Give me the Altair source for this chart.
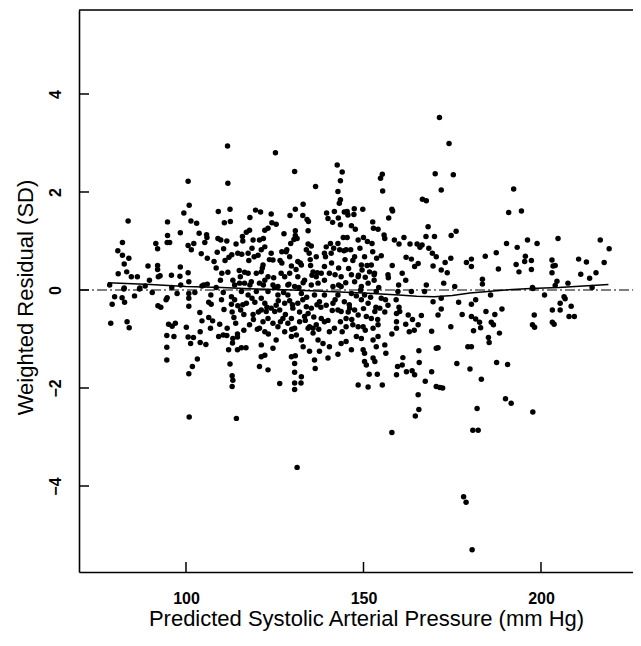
import altair as alt
import pandas as pd

# ---- data ----
x_ticks = [100, 150, 200]
y_ticks = [-4, -2, 0, 2, 4]

smooth_x = [78, 90, 100, 110, 120, 130, 140, 150, 160, 165, 170, 175, 180, 190, 197, 205, 212, 219]
smooth_y = [0.15, 0.11, 0.07, 0.05, 0.02, 0.0, -0.03, -0.06, -0.1, -0.13, -0.14, -0.11, -0.06, 0.0, 0.03, 0.05, 0.08, 0.11]

upper_left = [
    (83.7, 1.41), (82.1, 0.97), (80.8, 0.80), (82.1, 0.71), (83.9, 0.65), (82.6, 0.53), (80.9, 0.33),
    (83.3, 0.37), (84.6, 0.27), (86.3, 0.27), (82.6, 0.04), (87, 0.04), (89.3, 0.49), (89.7, 0.2),
    (92, 0.5), (92, 0.42), (92.2, 0.27), (92.7, 0.29), (91.5, 0.95), (92, 0.84), (94.8, 1.39),
    (94.8, 1.11), (94.7, 0.97), (95.4, 0.97), (95.9, 0.30), (98.4, 1.17), (98.4, 0.47), (98.3, 0.28),
    (100.6, 2.22), (100.9, 1.73), (99.4, 1.57), (101.4, 1.41), (103, 1.36), (102.2, 0.95), (100.6, 0.91),
    (101.5, 0.82), (103.7, 1.16), (105.8, 1.13), (105.9, 1.07), (105.3, 0.97), (104.3, 0.74), (100.6, 0.35),
    (100.8, 0.17), (107.9, 0.58), (109.1, 1.6), (111.7, 2.94), (111.8, 2.18), (112.4, 1.65), (110.8, 1.37),
    (112.5, 1.40), (109, 1.05), (109.8, 1.02), (111.5, 1.0), (108.8, 0.77), (110.6, 0.84), (112.9, 0.72),
    (112.1, 0.67), (114.1, 0.94), (115.9, 1.09), (117, 1.18), (117.9, 1.22), (118.9, 1.02), (119.6, 1.63),
    (118, 1.48), (116, 1.0), (114.6, 0.75), (115.7, 0.73), (118.6, 0.85), (119.2, 0.68), (117.7, 0.60),
    (110.1, 0.34), (111.8, 0.36), (109.7, 0.2), (113.2, 0.2), (115.3, 0.27), (116.5, 0.36), (117.5, 0.34),
    (115.1, 0.14), (113.7, 0.1), (116.5, 0.14), (118.4, 0.17), (119.8, 0.34), (78.5, 0.1),
    (108.5, 0.05), (110.5, -0.05), (104.5, 0.08), (106, 0.12), (102.5, -0.05), (98.5, 0.1), (96, 0.05),
    (90.5, -0.05), (88.5, 0.08),
]

lower_left = [
    (82.5, 0.02), (86.9, 0.02), (79.9, -0.14), (82, -0.16), (82.7, -0.25), (79.2, -0.29), (85.5, -0.12),
    (78.8, -0.68), (83.4, -0.65), (84, -0.77), (92.1, -0.32), (92.9, -0.35), (94.7, -0.16), (94.4, -0.2),
    (97.5, -0.07), (100.8, -0.07), (100.8, -0.17), (100.8, -0.33), (95.1, -0.70), (96.1, -0.74), (97, -0.68),
    (94.6, -0.93), (96.6, -0.95), (94.6, -1.17), (94.6, -1.43), (100.1, -0.76), (100.6, -0.96), (102.1, -0.97),
    (101.3, -1.09), (104, -1.07), (105.6, -1.11), (103.2, -1.41), (101.8, -1.56), (100.8, -1.71), (100.9, -2.59),
    (103.9, -0.46), (104.5, -0.63), (106.4, -0.25), (107.1, -0.29), (106.4, -0.56), (107.5, -0.63), (106.9, -0.78),
    (110.7, -0.40), (112.8, -0.29), (113.7, -0.2), (115.4, -0.41), (116.3, -0.50), (114.6, -0.32), (117, -0.27),
    (118.6, -0.17), (119.4, -0.25), (118.9, -0.50), (113.5, -0.56), (114, -0.68), (117.9, -0.71), (116.3, -0.82),
    (120.1, -0.80), (111.6, -0.78), (109.2, -0.95), (110.5, -0.92), (111.5, -0.93), (113.2, -0.99), (114.5, -0.96),
    (113.1, -1.08), (112, -1.22), (114.5, -1.22), (115.6, -1.18), (116.9, -1.18), (112.4, -1.51), (113, -1.75),
    (113.2, -1.84), (113, -1.97), (114.2, -2.62), (112.8, -0.14), (117.5, -0.1), (115.6, -0.03), (119.8, -0.03),
    (105, 0.1), (107, -0.1), (108.5, 0.45), (110, -0.2), (111, 0.6), (113, -0.45), (115, 0.4), (116, -0.3),
    (118, 0.1), (119, -0.6), (104, -0.85), (106, 0.65), (109.5, -0.7), (114.5, -0.9), (117.5, 0.75),
]

upper_mid = [
    (125.2, 2.80), (130.6, 2.42), (136.5, 2.11), (142.6, 2.55), (144, 2.41), (143.5, 2.23), (142.8, 2.01),
    (143.5, 1.84), (143.2, 1.77), (155.3, 2.36), (154.8, 2.28), (155.4, 2.02), (170.2, 2.37), (166.6, 1.85),
    (167.7, 1.82), (158, 1.65), (158.2, 1.61), (157.1, 1.47), (149.8, 1.65), (147.4, 1.66), (147.3, 1.54),
    (145.4, 1.6), (145.6, 1.53), (144.6, 1.59), (141.8, 1.6), (139.6, 1.57), (140, 1.46), (141.3, 1.38),
    (142.9, 1.47), (143.5, 1.33), (133, 1.75), (130.8, 1.65), (129.3, 1.52), (132.9, 1.52), (134.1, 1.44),
    (134.5, 1.40), (124, 1.55), (124.2, 1.37), (125.4, 1.34), (121, 1.59), (122.2, 1.22), (123.1, 1.26),
    (127.6, 1.15), (130.8, 1.21), (130.8, 1.11), (134.4, 1.21), (130.4, 1.03), (129.5, 0.95), (131.3, 1.05),
    (134.4, 0.94), (135.3, 0.90), (133.9, 0.82), (134.7, 0.75), (128.4, 0.82), (127, 0.78), (124, 0.75),
    (122.2, 0.88), (121.2, 0.82), (120.7, 1.02), (121.8, 1.05), (120.3, 0.71), (124.5, 0.61), (126.5, 0.60),
    (129.2, 0.68), (129.7, 0.49), (131.5, 0.58), (132.5, 0.51), (135.1, 0.50), (136.7, 0.68), (139, 0.75),
    (139.5, 0.88), (140.7, 0.95), (140.9, 0.75), (142.8, 0.95), (143.3, 0.82), (144.5, 0.80), (145.4, 1.07),
    (144.3, 1.07), (146.6, 1.31), (147.7, 1.24), (148.5, 1.02), (150, 1.07), (151.1, 0.99), (152.6, 1.39),
    (152.8, 1.26), (154.1, 1.24), (155.8, 1.12), (156, 1.05), (158.7, 1.02), (160, 0.94), (161.4, 1.07),
    (163.1, 0.94), (165.1, 0.94), (166.5, 0.92), (167.6, 1.09), (168.2, 1.29), (165.9, 0.87), (168.4, 0.85),
    (170, 1.09), (169.4, 0.75), (170.5, 0.68), (162, 0.67), (163.5, 0.63), (165.4, 0.54), (164.4, 0.48),
    (169.6, 0.49), (160.9, 0.34), (156.9, 0.31), (159.9, 0.1), (167.7, 0.1), (152.6, 0.78), (153.7, 0.65),
    (152.2, 0.51), (149.4, 0.51), (147.5, 0.68), (145.1, 0.82), (146.4, 0.82), (150.3, 0.68), (149.6, 0.41),
    (151.7, 0.37), (153.1, 0.34), (145.8, 0.44), (146.6, 0.31), (148.5, 0.27), (150.5, 0.26), (143.7, 0.27),
    (142, 0.31), (140.4, 0.34), (141.4, 0.07), (139, 0.48), (138.1, 0.34), (136.7, 0.27), (135.8, 0.37),
    (137.2, 0.14), (133.4, 0.2), (131.5, 0.27), (129.2, 0.34), (127.8, 0.27), (126.8, 0.34), (121.7, 0.51),
    (121.2, 0.37), (122.2, 0.2), (124.5, 0.1), (125.9, 0.07), (128.7, 0.1), (130.6, 0.07), (135.3, 0.1),
    (120.7, 0.14), (123.1, 0.27), (143.7, 0.07), (147.5, 0.17), (149.4, 0.07), (151.3, 0.14), (153, 0.31),
]

lower_mid = [
    (121.2, -0.17), (122.2, -0.27), (121.2, -0.41), (122.6, -0.44), (124, -0.37), (125.4, -0.31), (125, -0.44),
    (126.4, -0.41), (127.8, -0.27), (129.2, -0.22), (130.1, -0.37), (131.5, -0.27), (132.9, -0.2), (133.9, -0.34),
    (135.3, -0.37), (134.4, -0.48), (123.1, -0.58), (121.7, -0.65), (120.7, -0.78), (122.2, -0.85), (124.5, -0.68),
    (125.9, -0.75), (127.3, -0.58), (128.7, -0.68), (129.7, -0.58), (130.6, -0.78), (132, -0.65), (133.4, -0.54),
    (134.8, -0.75), (135.8, -0.78), (136.7, -0.71), (138.1, -0.58), (139, -0.65), (140.4, -0.85), (141.8, -0.78),
    (142.8, -0.41), (143.7, -0.44), (145.1, -0.58), (146.1, -0.37), (147.5, -0.41), (148.5, -0.51), (147, -0.71),
    (148.5, -0.75), (149.9, -0.75), (150.8, -0.54), (152.2, -0.58), (153.2, -0.44), (154.6, -0.37), (154.1, -0.71),
    (152.7, -0.78), (155, -0.17), (151.3, -0.27), (149.4, -0.2), (144.6, -0.24), (141.4, -0.27), (139.5, -0.31),
    (137.6, -0.24), (136.2, -0.1), (139, -0.1), (142.8, -0.1), (146.6, -0.07), (150.3, -0.1), (153.6, -0.03),
    (132.5, -0.07), (128.7, -0.1), (125.9, -0.1), (123.1, -0.03), (159.3, -0.48), (160.2, -0.44), (162.6, -0.51),
    (166.3, -0.52), (169.6, -0.24), (171, -0.51), (159.3, -0.78), (161.9, -0.70), (162.9, -0.85), (164.3, -0.82),
    (165.4, -0.71), (169.2, -0.84), (159.2, -0.2), (156.9, -0.31), (159.7, -0.03), (163.5, -0.03), (167.2, -0.03),
    (121.2, -1.12), (124.5, -1.19), (125.4, -1.02), (127.8, -0.85), (129.7, -0.95), (131.1, -0.92), (132.5, -1.02),
    (133, -1.16), (134.4, -0.78), (135.8, -0.88), (137.2, -1.02), (138.6, -1.09), (140.4, -1.16), (142.8, -1.31),
    (143.7, -1.09), (145.1, -1.05), (146.6, -1.22), (148, -0.95), (149.4, -0.99), (149.9, -1.22), (150.3, -1.29),
    (152.7, -1.02), (153.6, -1.16), (156, -1.12), (156.3, -1.29), (154.1, -0.95), (121.2, -1.36), (122.2, -1.33),
    (120.7, -1.56), (123.1, -1.63), (129.7, -1.36), (130.8, -1.34), (130.6, -1.5), (130.6, -1.68), (132.5, -1.77),
    (130.6, -1.9), (132.4, -1.9), (130.6, -2.03), (126.4, -1.91), (134.8, -1.25), (136.2, -1.43), (136.4, -1.6),
    (137.6, -1.25), (140, -1.39), (150.3, -1.46), (150.8, -1.53), (152.7, -1.39), (153.2, -1.46), (151.6, -1.72),
    (153.9, -1.72), (148.5, -1.94), (151.3, -1.98), (155.3, -1.94), (159.3, -1.73), (159.6, -1.56), (160.9, -1.53),
    (161.1, -1.38), (162.1, -1.67), (163.7, -1.65), (164.4, -1.73), (167.4, -1.86), (165.6, -1.24), (165.7, -1.48),
    (169.2, -1.67), (170.5, -1.19), (170.5, -1.97), (165.4, -2.14), (165.6, -2.44), (164.6, -2.57), (158, -2.91),
    (143.5, -0.65), (145.1, -0.75), (159.3, -0.65),
]

core_extra = [
    (121.5, 0.45), (123.5, 0.62), (125, 0.05), (126, -0.22), (127, 0.55), (128, -0.5), (129, 0.12), (130, -0.3),
    (131, 0.42), (132, -0.45), (133, 0.15), (134, -0.15), (135, 0.62), (136, -0.55), (137, 0.35), (138, -0.35),
    (139, 0.2), (140, -0.62), (141, 0.55), (142, -0.2), (143, 0.45), (144, -0.85), (145, 0.15), (146, -0.3),
    (147, 0.6), (148, -0.12), (149, 0.85), (150, -0.38), (151, 0.5), (152, -0.15), (153, 0.2), (154, -0.6),
    (155, 0.7), (156, -0.45), (157, 0.25), (158, -0.9), (122.8, -0.35), (124.7, 0.25), (126.6, -0.65),
    (128.2, 0.78), (129.8, -0.8), (131.8, 0.05), (133.6, -0.62), (135.5, 0.3), (137.4, -0.8), (139.3, 0.68),
    (141.2, -0.42), (143, 0.1), (144.8, 0.62), (146.7, -0.6), (148.6, 0.3), (150.5, -0.82), (152.4, 0.95),
    (154.3, 0.05), (156.2, -0.2), (158.1, 0.5), (160, -0.35), (161.9, 0.2), (163.8, -0.6), (120.4, -0.45),
    (121.8, 0.1), (123.2, -0.9), (127.5, -0.05), (132.2, 0.55), (136.9, -0.3), (141.6, 0.85), (145.7, -0.45),
    (149.2, 0.0), (153.5, -0.35),
]

upper_right = [
    (171.4, 3.52), (174.1, 2.99), (175.3, 2.35), (171.9, 2.04), (192.3, 2.06), (190.9, 1.58), (194.5, 1.61),
    (174.7, 1.11), (176.1, 1.2), (174.6, 0.65), (173, 0.56), (171.9, 0.41), (173.6, 0.35), (172.6, 0.14),
    (175.7, 0.07), (179, 0.56), (180.4, 0.63), (180.4, 0.48), (183.5, 0.22), (183.5, 0.12), (184.3, 0.69),
    (187.4, 0.76), (188, 0.43), (190.3, 0.95), (193.3, 0.87), (193, 0.52), (193.8, 0.37), (195.6, 0.69),
    (195.4, 0.58), (196.2, 1.02), (197.3, 0.60), (197.3, 0.42), (198.9, 0.95), (197.6, 0.05), (203.1, 0.61),
    (203.4, 0.49), (204, 0.5), (203.1, 0.35), (204.5, 0.18), (204, 0.09), (204.8, 1.05), (207.6, 0.14),
    (210.6, 0.63), (212.8, 0.57), (211.2, 0.32), (213.7, 0.24), (215.5, 0.35), (217.8, 0.56), (216.7, 1.02),
    (219.2, 0.84), (214.4, 0.05),
]

lower_right = [
    (171.9, -0.17), (171.9, -0.39), (176.8, -0.25), (177.8, -0.5), (174.6, -0.75), (180.4, -0.29), (181.6, -0.2),
    (180.4, -0.54), (181.6, -0.59), (182.7, -0.66), (183, -0.77), (181, -0.83), (184.5, -0.44), (186, -0.66),
    (186.6, -0.71), (187, -0.5), (189, -0.39), (188.3, -0.88), (185.2, -0.97), (185.4, -1.07), (179.4, -1.16),
    (180.4, -1.16), (171, -1.18), (176.3, -1.5), (180, -1.61), (183.2, -1.82), (187.5, -1.48), (190.6, -1.52),
    (171.5, -1.99), (172.3, -2.0), (190, -2.22), (191.6, -2.31), (182, -2.42), (197.7, -2.49), (180.8, -2.86),
    (182.3, -2.86), (185.8, -0.1), (198.1, -0.51), (197.6, -0.71), (198.2, -0.76), (203.2, -0.41), (203.2, -0.66),
    (203.7, -0.7), (205.4, -0.27), (205.4, -0.41), (206.5, -0.14), (206.8, -0.18), (208.5, -0.33), (207.9, -0.54),
    (209.4, -0.54), (201, -0.1), (197.7, 0.03),
]

outliers = [(131.3, -3.62), (178.2, -4.22), (178.9, -4.33), (180.6, -5.3)]

# ---- build tables ----
all_pts = upper_left + lower_left + upper_mid + lower_mid + core_extra + upper_right + lower_right + outliers
pts = pd.DataFrame(all_pts, columns=["pressure", "residual"])
smooth = pd.DataFrame({"pressure": smooth_x, "residual": smooth_y})
xt = pd.DataFrame({"pressure": x_ticks})
yt = pd.DataFrame({"residual": y_ticks})
zero = pd.DataFrame({"residual": [0]})
one = pd.DataFrame({"a": [0]})

W, H = 554, 562
FONT = "Liberation Sans"
xscale = alt.Scale(domain=[69.86, 225.92], nice=False, zero=False)
yscale = alt.Scale(domain=[-5.755, 5.714], nice=False, zero=False)

x_axis = alt.Axis(
    values=x_ticks, ticks=False, grid=False, domain=True, domainColor="black", domainWidth=1.6,
    labelFont=FONT, labelFontSize=16, labelFontWeight="bold", labelColor="black", labelPadding=18,
    title="Predicted Systolic Arterial Pressure (mm Hg)", titleFont=FONT, titleFontSize=22,
    titleFontWeight="normal", titleColor="black", titleBaseline="alphabetic", titleY=53,
    titleX=287, titleAlign="center",
)
y_axis = alt.Axis(
    values=y_ticks, ticks=False, grid=False, domain=True, domainColor="black", domainWidth=1.6,
    labelFont=FONT, labelFontSize=16, labelFontWeight="bold", labelColor="black", labelPadding=16,
    labelAngle=270, labelAlign="center", labelBaseline="bottom",
    title="Weighted Residual (SD)", titleFont=FONT, titleFontSize=22, titleFontWeight="normal",
    titleColor="black", titleX=-42, titleY=287, titleAngle=270, titleAlign="center", titleBaseline="bottom",
)

points = alt.Chart(pts).mark_circle(size=30, color="black", opacity=1).encode(
    x=alt.X("pressure:Q", scale=xscale, axis=x_axis),
    y=alt.Y("residual:Q", scale=yscale, axis=y_axis),
)
line = alt.Chart(smooth).mark_line(color="black", strokeWidth=1.5).encode(
    x=alt.X("pressure:Q", scale=xscale, axis=x_axis),
    y=alt.Y("residual:Q", scale=yscale, axis=y_axis),
)
zero_line = alt.Chart(zero).mark_rule(color="black", strokeWidth=1.2, strokeDash=[10, 3, 2, 3]).encode(
    y=alt.Y("residual:Q", scale=yscale, axis=y_axis),
    x=alt.value(0), x2=alt.value(W),
)
top_line = alt.Chart(one).mark_rule(color="black", strokeWidth=1.6).encode(
    y=alt.value(0), x=alt.value(0), x2=alt.value(W),
)
x_tick_marks = alt.Chart(xt).mark_rule(color="black", strokeWidth=1.5).encode(
    x=alt.X("pressure:Q", scale=xscale, axis=x_axis),
    y=alt.value(H), y2=alt.value(H - 10),
)
y_tick_marks = alt.Chart(yt).mark_rule(color="black", strokeWidth=1.5).encode(
    y=alt.Y("residual:Q", scale=yscale, axis=y_axis),
    x=alt.value(0), x2=alt.value(10),
)

chart = alt.layer(points, line, zero_line, top_line, x_tick_marks, y_tick_marks).properties(
    width=W, height=H,
    autosize=alt.AutoSizeParams(type="none"),
    padding={"left": 71, "top": 2, "right": 0, "bottom": 60},
).configure_view(strokeWidth=0).configure(background="white")

chart.save("out.html", embed_options={"renderer": "svg", "actions": False})
